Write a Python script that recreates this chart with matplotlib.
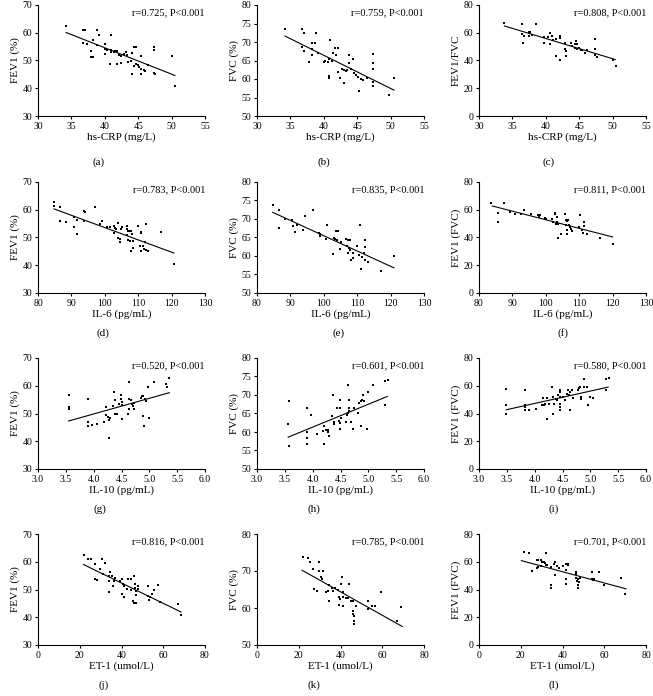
import numpy as np
import matplotlib
matplotlib.use("Agg")
import matplotlib.pyplot as plt

plt.rcParams['font.family'] = ['Liberation Serif', 'DejaVu Serif']

# ---- data ----
# (a) hs-CRP vs FEV1 (%)
a_x = [34.2, 36.7, 37.0, 38.9, 40.9, 36.7, 37.3, 38.2, 39.1, 37.9, 37.9, 38.3, 38.9, 40.0,
       40.0, 40.3, 40.0, 40.9, 41.0, 41.4, 41.6, 41.9, 40.8, 41.8, 42.4, 42.2, 42.5, 42.9,
       43.1, 43.3, 43.5, 43.9, 44.0, 44.3, 44.6, 44.1, 44.4, 44.6, 44.9, 45.1, 45.4, 45.4,
       45.4, 45.8, 46.0, 46.4, 47.3, 47.3, 47.3, 47.5, 50.0, 50.5]
a_y = [62.6, 60.9, 60.9, 60.9, 59.3, 56.3, 56.1, 57.4, 59.2, 53.5, 51.3, 51.3, 55.5, 56.1,
       54.3, 53.7, 52.5, 53.7, 53.1, 53.1, 53.5, 53.5, 48.6, 48.6, 49.2, 51.9, 51.7, 52.5,
       53.1, 51.9, 49.5, 49.8, 52.8, 54.9, 54.9, 45.0, 48.0, 48.9, 48.3, 47.7, 47.1, 51.6,
       45.1, 46.5, 46.2, 48.3, 54.9, 53.9, 45.6, 45.0, 51.6, 40.8]
a_fit = ([34.2, 50.5], [60.1, 44.6])

# (b) hs-CRP vs FVC (%)
b_x = [34.2, 36.7, 37.0, 38.8, 40.9, 36.7, 37.1, 38.2, 38.7, 38.3, 38.2, 37.8, 39.1, 40.0,
       40.2, 40.7, 40.8, 41.2, 41.4, 41.7, 42.2, 41.8, 40.8, 40.8, 42.2, 42.4, 43.0, 42.7,
       43.0, 43.3, 43.5, 43.8, 43.7, 44.4, 44.1, 44.5, 44.8, 45.1, 45.5, 45.3, 45.9, 46.5,
       47.3, 47.3, 47.3, 47.4, 47.4, 49.8, 50.5]
b_y = [73.5, 73.5, 72.4, 72.4, 70.5, 68.7, 67.6, 69.6, 69.6, 68.0, 66.5, 64.5, 66.9, 64.6,
       64.8, 64.6, 65.3, 64.8, 66.9, 68.5, 68.5, 66.4, 60.8, 60.2, 62.0, 60.4, 58.8, 62.8,
       62.4, 62.2, 62.4, 66.4, 64.2, 65.5, 62.6, 61.7, 61.0, 60.6, 59.9, 56.7, 59.7, 60.4,
       66.7, 64.4, 62.6, 59.2, 58.0, 55.8, 60.3]
b_fit = ([34.2, 50.5], [71.6, 57.0])

# (c) hs-CRP vs FEV1/FVC
c_x = [33.8, 36.4, 38.5, 36.4, 36.6, 36.8, 37.5, 37.7, 37.5, 38.0, 39.7, 39.8, 40.3, 40.7,
       40.6, 40.9, 41.1, 41.5, 41.6, 42.1, 42.2, 42.2, 42.8, 42.9, 43.0, 43.0, 43.8, 43.9,
       44.3, 44.5, 44.7, 44.4, 44.7, 44.9, 45.3, 45.4, 45.8, 46.1, 47.4, 47.4, 47.3, 47.6,
       50.0, 50.5]
c_y = [67.1, 66.1, 66.6, 58.9, 52.7, 57.7, 60.4, 60.4, 57.5, 58.4, 57.0, 52.9, 57.0, 60.1,
       51.8, 57.9, 55.1, 55.8, 43.1, 56.3, 40.7, 57.7, 52.9, 48.0, 47.0, 43.1, 52.9, 50.5,
       52.2, 54.1, 52.2, 48.7, 48.0, 48.7, 47.4, 47.4, 45.7, 47.4, 55.8, 48.0, 43.8, 42.6,
       40.7, 35.9]
c_fit = ([33.8, 50.4], [64.9, 40.7])

# (d) IL-6 vs FEV1 (%)
d_x = [84.7, 84.8, 86.5, 86.5, 88.5, 90.7, 90.8, 91.7, 91.7, 93.8, 94.2, 93.7, 97.1, 98.5,
       99.1, 100.8, 101.5, 102.8, 103.1, 102.8, 103.5, 104.1, 104.0, 104.5, 104.5, 104.8,
       105.2, 106.5, 106.7, 107.0, 107.3, 107.7, 108.0, 106.7, 107.0, 107.5, 107.8, 108.5,
       108.5, 109.8, 110.8, 110.8, 110.5, 110.8, 111.3, 111.8, 112.0, 112.3, 112.3, 112.8,
       116.8, 120.7]
d_y = [62.8, 61.2, 60.9, 56.1, 55.5, 57.4, 53.7, 51.4, 56.4, 59.4, 59.2, 56.1, 60.9, 55.0,
       55.8, 53.8, 53.7, 54.3, 53.4, 51.6, 53.1, 55.2, 49.8, 49.5, 48.4, 53.1, 53.7, 54.0,
       53.1, 52.5, 52.2, 52.2, 51.3, 51.0, 49.2, 48.6, 45.3, 48.6, 46.2, 54.0, 52.0, 51.6,
       46.8, 45.0, 47.1, 46.0, 48.3, 55.0, 45.6, 45.0, 51.9, 40.6]
d_fit = ([84.8, 120.7], [60.3, 44.4])

# (e) IL-6 vs FVC (%)
e_x = [84.7, 86.5, 86.7, 88.5, 90.5, 90.8, 91.5, 92.0, 93.9, 94.5, 96.9, 98.7, 99.0, 99.0,
       101.0, 100.7, 102.7, 103.1, 103.5, 103.8, 104.3, 104.1, 104.8, 105.2, 106.5, 107.3,
       107.7, 107.0, 107.5, 107.8, 107.3, 108.2, 108.7, 108.7, 109.8, 110.5, 110.8, 111.0,
       111.5, 112.0, 112.3, 112.4, 112.2, 113.1, 117.0, 121.0]
e_y = [73.7, 72.3, 67.7, 69.9, 69.6, 68.2, 66.4, 68.5, 67.1, 70.7, 72.5, 66.2, 65.9, 65.5,
       68.5, 64.6, 60.6, 64.9, 64.6, 66.7, 66.7, 64.4, 62.0, 63.8, 64.6, 64.2, 64.2, 62.6,
       62.2, 61.5, 60.8, 58.8, 59.5, 60.8, 62.6, 60.3, 68.5, 56.5, 59.8, 60.8, 62.4, 64.4,
       59.0, 58.3, 55.9, 60.1]
e_fit = ([84.7, 121.0], [71.8, 56.8])

# (f) IL-6 vs FEV1 (FVC)
f_x = [83.6, 87.4, 85.7, 85.7, 89.4, 90.7, 92.7, 93.4, 95.7, 97.7, 98.2, 98.0, 99.7, 100.2,
       102.0, 102.7, 102.2, 103.0, 103.4, 103.5, 103.7, 102.7, 103.8, 104.5, 105.7, 106.0,
       106.4, 106.7, 106.0, 106.4, 106.2, 107.0, 107.2, 107.4, 107.7, 110.0, 110.3, 110.7,
       111.4, 111.4, 111.2, 112.2, 116.2, 120.0]
f_y = [65.1, 65.1, 57.7, 51.2, 58.4, 57.2, 57.2, 59.6, 57.2, 56.5, 56.5, 54.8, 54.3, 53.6,
       53.6, 56.7, 51.2, 50.0, 51.2, 54.8, 49.5, 57.7, 39.9, 42.8, 56.7, 52.4, 51.9, 52.4,
       49.3, 45.7, 42.8, 49.3, 47.6, 45.9, 44.7, 47.6, 56.5, 45.7, 51.2, 48.1, 43.3, 42.3,
       39.9, 35.6]
f_fit = ([84.0, 120.0], [62.7, 40.4])

# (g) IL-10 vs FEV1 (%)
g_x = [3.55, 3.55, 3.55, 3.90, 3.90, 3.90, 3.97, 4.06, 4.18, 4.23, 4.23, 4.26, 4.27, 4.28,
       4.30, 4.35, 4.36, 4.39, 4.38, 4.42, 4.46, 4.49, 4.49, 4.50, 4.51, 4.51, 4.64, 4.61,
       4.64, 4.64, 4.67, 4.68, 4.70, 4.72, 4.72, 4.85, 4.87, 4.89, 4.89, 4.90, 4.92, 4.94,
       4.98, 4.99, 5.09, 5.30, 5.32, 5.36]
g_y = [56.6, 52.3, 51.6, 55.4, 47.1, 45.4, 45.9, 46.1, 47.1, 52.3, 49.3, 48.7, 47.5, 41.0,
       48.2, 52.7, 57.8, 54.8, 49.7, 50.0, 53.3, 55.3, 56.5, 54.2, 52.9, 48.0, 61.4, 50.0,
       51.5, 55.2, 54.8, 53.3, 52.8, 53.7, 51.6, 55.7, 56.3, 56.3, 49.1, 45.5, 55.2, 54.5,
       59.6, 48.3, 61.4, 60.8, 59.4, 62.8]
g_fit = ([3.55, 5.36], [47.3, 57.5])

# (h) IL-10 vs FVC (%)
h_x = [3.57, 3.56, 3.58, 3.89, 3.89, 3.89, 3.89, 3.97, 4.08, 4.18, 4.21, 4.21, 4.24, 4.27,
       4.28, 4.30, 4.36, 4.35, 4.39, 4.39, 4.43, 4.47, 4.49, 4.49, 4.49, 4.50, 4.49, 4.63,
       4.60, 4.62, 4.63, 4.66, 4.66, 4.66, 4.69, 4.72, 4.74, 4.82, 4.84, 4.87, 4.88, 4.87,
       4.91, 4.93, 4.98, 5.00, 5.09, 5.30, 5.36, 5.30]
h_y = [68.3, 62.1, 56.1, 66.6, 59.9, 58.5, 56.7, 64.7, 59.4, 60.3, 61.5, 56.7, 60.6, 60.6,
       60.1, 58.9, 69.9, 64.4, 62.7, 62.1, 66.6, 63.0, 62.4, 68.7, 66.5, 63.9, 60.9, 72.6,
       62.7, 64.7, 65.1, 65.7, 68.7, 66.6, 62.7, 60.9, 66.6, 65.1, 67.8, 68.3, 68.7, 61.7,
       69.9, 68.3, 60.9, 70.8, 72.6, 73.7, 74.1, 67.2]
h_fit = ([3.56, 5.34], [58.6, 69.6])

# (i) IL-10 vs FEV1 (FVC)
i_x = [3.49, 3.49, 3.49, 3.83, 3.83, 3.83, 3.83, 3.89, 4.03, 4.13, 4.15, 4.17, 4.19, 4.22,
       4.22, 4.25, 4.31, 4.33, 4.34, 4.33, 4.38, 4.41, 4.42, 4.45, 4.46, 4.45, 4.46, 4.46,
       4.46, 4.51, 4.55, 4.58, 4.59, 4.61, 4.63, 4.64, 4.67, 4.69, 4.77, 4.79, 4.82, 4.83,
       4.83, 4.88, 4.89, 4.94, 4.96, 4.99, 5.05, 5.28, 5.28, 5.34]
i_y = [57.3, 46.3, 39.8, 56.6, 45.8, 44.6, 42.2, 42.2, 43.4, 46.3, 51.1, 45.8, 47.0, 51.1,
       35.7, 47.0, 59.0, 51.8, 47.0, 39.8, 50.6, 49.4, 53.0, 51.8, 42.2, 47.0, 44.6, 57.1,
       55.4, 51.8, 49.4, 54.2, 56.6, 53.0, 55.4, 42.2, 57.1, 51.3, 56.6, 58.3, 59.0, 51.8,
       50.6, 65.1, 59.0, 59.0, 46.3, 51.8, 51.3, 65.1, 56.6, 65.8]
i_fit = ([3.49, 5.32], [42.7, 59.0])

# (j) ET-1 vs FEV1 (%)
j_x = [21.8, 23.9, 25.2, 27.4, 27.4, 28.2, 30.6, 29.8, 31.9, 30.9, 33.8, 33.8, 34.6, 35.4,
       36.2, 35.9, 33.8, 36.9, 39.3, 40.2, 40.5, 40.2, 41.0, 41.4, 42.5, 43.0, 44.6, 44.6,
       45.7, 46.2, 46.2, 46.5, 46.5, 47.0, 47.0, 46.9, 48.1, 47.8, 52.9, 52.9, 53.2, 53.5,
       54.8, 55.6, 57.4, 58.5, 66.9, 68.5]
j_y = [62.6, 61.0, 61.0, 59.2, 53.8, 53.3, 61.0, 57.4, 59.5, 55.6, 55.0, 53.2, 56.2, 55.0,
       52.9, 51.4, 49.0, 54.1, 52.9, 53.8, 52.1, 48.5, 47.3, 51.4, 50.2, 53.8, 53.8, 49.7,
       45.8, 45.1, 55.0, 52.1, 50.5, 49.6, 48.1, 45.1, 51.1, 50.2, 51.1, 47.8, 46.3, 47.3,
       48.5, 49.7, 51.7, 45.4, 44.8, 40.7]
j_fit = ([21.8, 68.5], [59.0, 41.9])

# (k) ET-1 vs FVC (%)
k_x = [21.9, 24.3, 25.4, 27.0, 29.9, 29.9, 31.5, 30.6, 31.2, 27.5, 28.6, 34.3, 33.1, 33.9,
       34.7, 36.0, 36.6, 37.6, 38.7, 39.5, 39.8, 39.5, 40.3, 40.8, 41.1, 41.1, 41.4, 42.7,
       43.5, 44.3, 45.1, 45.9, 45.9, 46.2, 46.4, 46.7, 46.7, 47.2, 53.1, 53.4, 55.0, 56.6,
       59.2, 67.2, 68.8]
k_y = [73.8, 73.5, 72.4, 70.5, 72.4, 69.9, 69.9, 68.4, 67.8, 65.1, 64.7, 61.8, 64.2, 64.7,
       66.3, 65.4, 64.5, 65.4, 65.0, 63.0, 62.3, 60.9, 66.5, 68.4, 64.2, 63.0, 60.6, 62.7,
       62.7, 66.5, 62.0, 61.8, 59.1, 58.4, 57.8, 56.4, 55.8, 60.6, 62.0, 59.6, 60.6, 60.6,
       64.2, 56.6, 60.3]
k_fit = ([21.6, 69.6], [70.2, 55.0])

# (l) ET-1 vs FEV1 (FVC)
l_x = [21.6, 24.1, 25.6, 27.7, 28.3, 29.6, 27.7, 28.5, 29.6, 30.4, 31.2, 31.7, 32.0, 32.3,
       32.8, 34.4, 34.4, 34.4, 35.7, 36.3, 36.3, 37.6, 38.4, 40.0, 41.6, 42.4, 41.6, 41.6,
       41.6, 42.7, 46.4, 46.7, 46.4, 46.9, 47.2, 47.5, 48.0, 48.5, 47.2, 53.9, 54.2, 54.7,
       55.2, 57.3, 59.7, 68.0, 69.9]
l_y = [67.1, 66.3, 53.2, 61.1, 61.1, 61.1, 55.6, 56.3, 56.8, 59.6, 59.6, 59.2, 58.0, 66.3,
       58.0, 56.3, 43.6, 41.2, 58.4, 59.6, 50.8, 56.8, 55.6, 57.2, 58.4, 58.4, 53.9, 47.7,
       44.1, 58.0, 52.5, 51.3, 48.4, 46.0, 41.2, 47.7, 45.3, 48.4, 43.6, 52.5, 47.7, 46.7,
       47.7, 52.7, 43.6, 48.4, 37.1]
l_fit = ([20.3, 70.4], [60.8, 40.5])

r_text = ["r=0.725, P<0.001", "r=0.759, P<0.001", "r=0.808, P<0.001",
          "r=0.783, P<0.001", "r=0.835, P<0.001", "r=0.811, P<0.001",
          "r=0.520, P<0.001", "r=0.601, P<0.001", "r=0.580, P<0.001",
          "r=0.816, P<0.001", "r=0.785, P<0.001", "r=0.701, P<0.001"]
x_labels = ["hs-CRP (mg/L)"] * 3 + ["IL-6 (pg/mL)"] * 3 + ["IL-10 (pg/mL)"] * 3 + ["ET-1 (umol/L)"] * 3
y_labels = ["FEV1 (%)", "FVC (%)", "FEV1/FVC",
            "FEV1 (%)", "FVC (%)", "FEV1 (FVC)",
            "FEV1 (%)", "FVC (%)", "FEV1 (FVC)",
            "FEV1 (%)", "FVC (%)", "FEV1 (FVC)"]
x_ticks = [np.arange(30, 56, 5)] * 3 + [np.arange(80, 131, 10)] * 3 + \
          [np.arange(3.0, 6.01, 0.5)] * 3 + [np.arange(0, 81, 20)] * 3
y_ticks = [np.arange(30, 71, 10), np.arange(50, 81, 5), np.arange(0, 81, 20)] * 3 + \
          [np.arange(30, 71, 10), np.arange(50, 81, 10), np.arange(0, 81, 20)]
panel_tags = ["(a)", "(b)", "(c)", "(d)", "(e)", "(f)",
              "(g)", "(h)", "(i)", "(j)", "(k)", "(l)"]

xs = [a_x, b_x, c_x, d_x, e_x, f_x, g_x, h_x, i_x, j_x, k_x, l_x]
ys = [a_y, b_y, c_y, d_y, e_y, f_y, g_y, h_y, i_y, j_y, k_y, l_y]
fits = [a_fit, b_fit, c_fit, d_fit, e_fit, f_fit, g_fit, h_fit, i_fit, j_fit, k_fit, l_fit]

# ---- layout (pixels of the 653x696 figure) ----
W, H = 653, 696
col_left = [38, 257, 479]
col_width = 167
row_top = [5, 182, 358, 534]
row_height = 111
tag_x = [0.36, 0.40, 0.415, 0.39, 0.49, 0.50, 0.37, 0.34, 0.45, 0.39, 0.34, 0.45]
tag_y = [-0.42, -0.36, -0.36, -0.36]

fig = plt.figure(figsize=(W / 100, H / 100), dpi=100)

for n in range(12):
    r, c = divmod(n, 3)
    ax = fig.add_axes([col_left[c] / W, 1 - (row_top[r] + row_height) / H,
                       col_width / W, row_height / H])
    ax.scatter(xs[n], ys[n], s=4.5, color='black', marker='s', linewidths=0)
    ax.plot(fits[n][0], fits[n][1], color='black', lw=0.8)

    xt, yt = x_ticks[n], y_ticks[n]
    ax.set_xlim(xt[0], xt[-1])
    ax.set_ylim(yt[0], yt[-1])
    ax.set_xticks(xt)
    ax.set_yticks(yt)
    if r == 2:
        ax.set_xticklabels(["%.1f" % v for v in xt])
    ax.spines['top'].set_visible(False)
    ax.spines['right'].set_visible(False)
    for s in ('left', 'bottom'):
        ax.spines[s].set_linewidth(0.8)
    ax.tick_params(direction='out', length=2.5, width=0.8, labelsize=7, pad=1.5)
    ax.set_xlabel(x_labels[n], fontsize=8, labelpad=1)
    ax.set_ylabel(y_labels[n], fontsize=8, labelpad=2)
    ax.text(1.0, 0.97, r_text[n], transform=ax.transAxes, ha='right', va='top', fontsize=7.5)
    ax.text(tag_x[n], tag_y[r], panel_tags[n], transform=ax.transAxes, ha='center',
            va='center', fontsize=8)

fig.savefig("out.png", dpi=100)
